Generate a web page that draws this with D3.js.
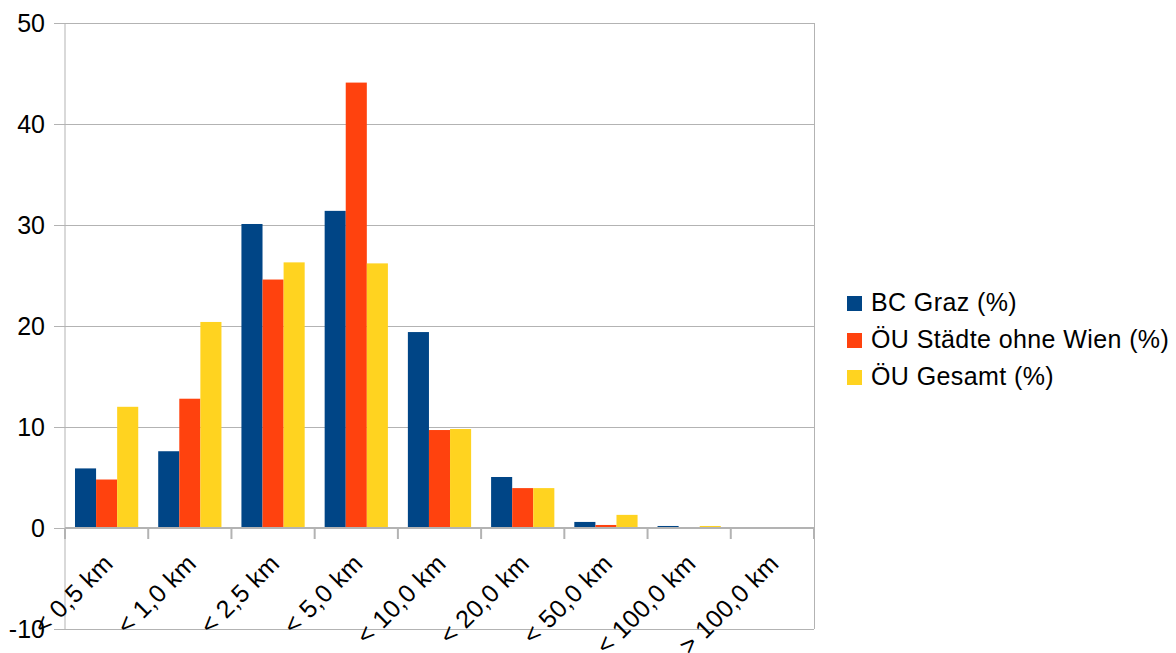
<!DOCTYPE html>
<html>
<head>
<meta charset="utf-8">
<script src="https://cdn.jsdelivr.net/npm/d3@7"></script>
<style>
  html, body { margin: 0; padding: 0; background: #fff; }
  svg { display: block; font-family: "Liberation Sans", Arial, sans-serif; }
</style>
</head>
<body>
<svg id="chart" width="1176" height="653"></svg>
<script>
// Distance bands (categories)
const categories = ["< 0,5 km", "< 1,0 km", "< 2,5 km", "< 5,0 km", "< 10,0 km",
                    "< 20,0 km", "< 50,0 km", "< 100,0 km", "> 100,0 km"];

// Share of trips per distance band, in percent
const bcGraz     = [5.9, 7.6, 30.1, 31.4, 19.4, 5.05, 0.6, 0.2, 0.05];
const ouStaedte  = [4.8, 12.8, 24.6, 44.1, 9.7, 3.95, 0.3, 0.05, 0.05];
const ouGesamt   = [12.0, 20.4, 26.3, 26.2, 9.8, 3.95, 1.3, 0.2, 0.05];

const seriesNames = ["BC Graz (%)", "ÖU Städte ohne Wien (%)", "ÖU Gesamt (%)"];
const yTicks = [-10, 0, 10, 20, 30, 40, 50];

const seriesValues = [bcGraz, ouStaedte, ouGesamt];
const colors = ["#004586", "#ff420e", "#ffd320"];

const svg = d3.select("#chart");
const plotLeft = 65, plotRight = 814, plotTop = 23, plotBottom = 629;
const fontSize = 25, letterSpacing = 0.4;

const x = d3.scaleBand().domain(categories).range([plotLeft, plotRight]).paddingInner(0).paddingOuter(0);
const y = d3.scaleLinear().domain([-10, 50]).range([plotBottom, plotTop]);

const groupFrac = 0.76;
const xs = d3.scaleBand().domain(d3.range(seriesNames.length))
  .range([0, x.bandwidth() * groupFrac]);
const groupOffset = x.bandwidth() * (1 - groupFrac) / 2;

const gridColor = "#b3b3b3";

// Horizontal grid lines
svg.append("g").selectAll("line").data(yTicks).join("line")
  .attr("x1", plotLeft).attr("x2", plotRight)
  .attr("y1", d => y(d)).attr("y2", d => y(d))
  .attr("stroke", gridColor).attr("stroke-width", 1)
  .attr("shape-rendering", "crispEdges");

// Y axis (plain hyphen for negative values)
const yAxis = svg.append("g")
  .attr("transform", `translate(${plotLeft},0)`)
  .call(d3.axisLeft(y).tickValues(yTicks).tickSize(11).tickPadding(9).tickFormat(d => String(d)));
yAxis.select(".domain").attr("stroke", gridColor).attr("d", `M-0,${plotTop}V${plotBottom}`);
yAxis.selectAll(".tick line").attr("stroke", gridColor);
yAxis.selectAll("text").attr("font-size", fontSize).attr("fill", "#000")
  .attr("font-family", "Liberation Sans, Arial, sans-serif");

// Right frame line
svg.append("line")
  .attr("x1", plotRight).attr("x2", plotRight).attr("y1", plotTop).attr("y2", plotBottom)
  .attr("stroke", gridColor).attr("shape-rendering", "crispEdges");

// Bars
const groups = svg.append("g").selectAll("g").data(categories).join("g")
  .attr("transform", d => `translate(${x(d) + groupOffset},0)`);
groups.selectAll("rect")
  .data((c, i) => seriesValues.map((vals, s) => ({ s, v: vals[i] })))
  .join("rect")
  .attr("x", d => xs(d.s))
  .attr("width", xs.bandwidth())
  .attr("y", d => y(Math.max(0, d.v)))
  .attr("height", d => Math.abs(y(d.v) - y(0)))
  .attr("fill", d => colors[d.s]);

// X axis at zero with category boundary ticks
const xAxisG = svg.append("g");
xAxisG.append("line")
  .attr("x1", plotLeft).attr("x2", plotRight).attr("y1", y(0)).attr("y2", y(0))
  .attr("stroke", gridColor).attr("stroke-width", 2);
const boundaries = categories.map(c => x(c)).concat([plotRight]);
xAxisG.selectAll("line.tk").data(boundaries).join("line").attr("class", "tk")
  .attr("x1", d => d).attr("x2", d => d)
  .attr("y1", y(0)).attr("y2", y(0) + 11)
  .attr("stroke", gridColor).attr("stroke-width", 2);

// Rotated category labels
svg.append("g").selectAll("text").data(categories).join("text")
  .attr("transform", d => `translate(${x(d) + x.bandwidth() / 2 + 8},${y(0) + 37}) rotate(-45)`)
  .attr("text-anchor", "end")
  .attr("font-size", fontSize)
  .attr("letter-spacing", letterSpacing)
  .attr("fill", "#000")
  .text(d => d);

// Legend
const legend = svg.append("g").attr("transform", "translate(847,296)");
const li = legend.selectAll("g").data(seriesNames).join("g")
  .attr("transform", (d, i) => `translate(0,${i * 37})`);
li.append("rect").attr("x", 0).attr("y", 0).attr("width", 15).attr("height", 15)
  .attr("fill", (d, i) => colors[i]);
li.append("text").attr("x", 24).attr("y", 15).attr("font-size", fontSize)
  .attr("letter-spacing", letterSpacing).attr("fill", "#000")
  .text(d => d);
</script>
</body>
</html>
